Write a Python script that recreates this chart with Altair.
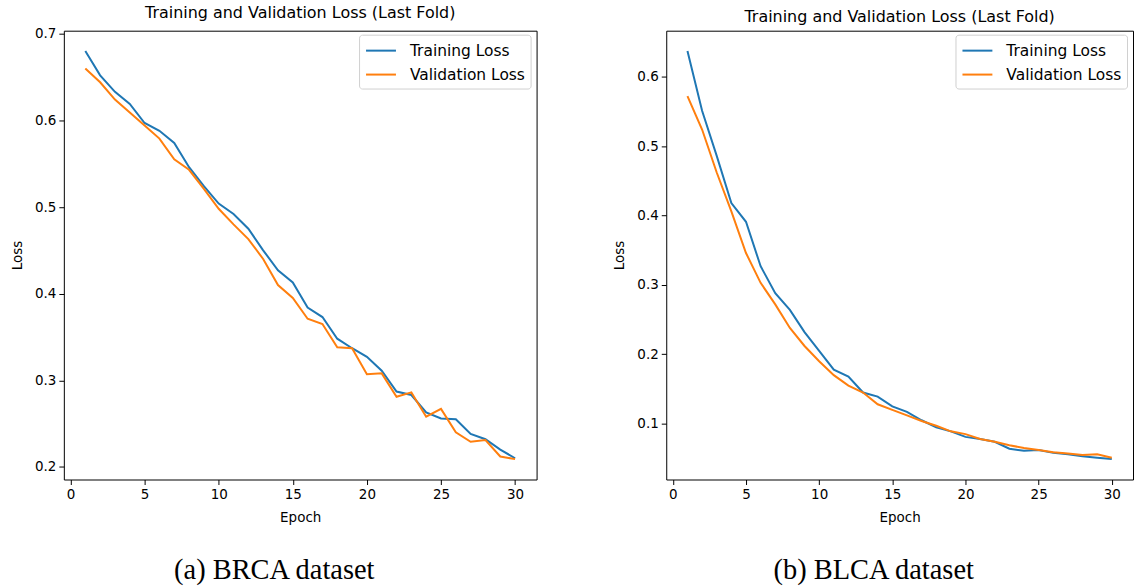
import altair as alt
import pandas as pd

epochs = list(range(1, 31))
series_names = ["Training Loss", "Validation Loss"]
series_colors = ["#1f77b4", "#ff7f0e"]

brca_train = [0.680, 0.652, 0.633, 0.619, 0.597, 0.588, 0.574, 0.546, 0.524, 0.504,
              0.492, 0.475, 0.450, 0.427, 0.413, 0.384, 0.373, 0.348, 0.337, 0.327,
              0.311, 0.287, 0.283, 0.263, 0.256, 0.255, 0.238, 0.232, 0.220, 0.210]
brca_val = [0.660, 0.644, 0.624, 0.609, 0.594, 0.579, 0.555, 0.543, 0.521, 0.498,
            0.480, 0.463, 0.440, 0.410, 0.395, 0.371, 0.365, 0.338, 0.337, 0.307,
            0.308, 0.281, 0.286, 0.258, 0.267, 0.240, 0.229, 0.231, 0.212, 0.209]

blca_train = [0.637, 0.551, 0.486, 0.418, 0.391, 0.327, 0.288, 0.264, 0.232, 0.205,
              0.178, 0.168, 0.145, 0.139, 0.125, 0.117, 0.105, 0.095, 0.089, 0.081,
              0.078, 0.074, 0.064, 0.061, 0.062, 0.058, 0.056, 0.053, 0.051, 0.049]
blca_val = [0.572, 0.524, 0.462, 0.406, 0.346, 0.303, 0.272, 0.238, 0.212, 0.190,
            0.170, 0.155, 0.145, 0.128, 0.120, 0.112, 0.104, 0.097, 0.089, 0.085,
            0.078, 0.074, 0.069, 0.065, 0.062, 0.059, 0.057, 0.055, 0.056, 0.051]

x_ticks = [0, 5, 10, 15, 20, 25, 30]
brca_y_ticks = [0.2, 0.3, 0.4, 0.5, 0.6, 0.7]
blca_y_ticks = [0.1, 0.2, 0.3, 0.4, 0.5, 0.6]

panel_title = "Training and Validation Loss (Last Fold)"
captions = ["(a) BRCA dataset", "(b) BLCA dataset"]


def margin_domain(vals, frac=0.05):
    lo, hi = min(vals), max(vals)
    pad = (hi - lo) * frac
    return [lo - pad, hi + pad]


def make_panel(train, val, yticks, caption, width, height, caption_x):
    df = pd.DataFrame({
        "Epoch": epochs + epochs,
        "Loss": train + val,
        "series": [series_names[0]] * len(epochs) + [series_names[1]] * len(epochs),
    })
    xdom = margin_domain(epochs)
    ydom = margin_domain(train + val)
    lines = alt.Chart(df).mark_line(strokeWidth=2, clip=True).encode(
        x=alt.X("Epoch:Q", scale=alt.Scale(domain=xdom, nice=False, zero=False),
                axis=alt.Axis(values=x_ticks, title="Epoch", format="d")),
        y=alt.Y("Loss:Q", scale=alt.Scale(domain=ydom, nice=False, zero=False),
                axis=alt.Axis(values=yticks, title="Loss", format=".1f")),
        color=alt.Color("series:N",
                        scale=alt.Scale(domain=series_names, range=series_colors),
                        legend=alt.Legend(title=None, orient="none",
                                          legendX=width - 178, legendY=4)),
    )
    cap = alt.Chart(pd.DataFrame({"caption": [caption]})).mark_text(
        font="Liberation Serif", fontSize=28.5, color="black", align="center",
        baseline="middle"
    ).encode(
        text="caption:N",
        x=alt.value(caption_x),
        y=alt.value(height + 91),
    )
    return alt.layer(lines, cap).properties(
        width=width, height=height,
        title=alt.Title(panel_title),
    )


left = make_panel(brca_train, brca_val, brca_y_ticks, captions[0], 474, 450, 211)
right = make_panel(blca_train, blca_val, blca_y_ticks, captions[1], 468, 450, 208)

chart = alt.hconcat(left, right, spacing=75).resolve_scale(
    color="independent", x="independent", y="independent"
).resolve_legend(color="independent").properties(
    padding={"left": 10, "top": 3, "right": 5, "bottom": 0}
).configure(
    font="DejaVu Sans",
    background="white",
).configure_view(
    stroke="black", strokeWidth=1,
).configure_axis(
    grid=False, domain=False, tickColor="black", tickSize=5, tickWidth=1,
    labelColor="black", labelFontSize=13.5, labelPadding=3, labelFont="DejaVu Sans",
    titleColor="black", titleFontSize=13.5, titleFontWeight="normal",
    titleFont="DejaVu Sans", titlePadding=10,
).configure_title(
    fontSize=16, fontWeight="normal", color="black", font="DejaVu Sans",
    anchor="middle", offset=6,
).configure_legend(
    symbolType="M-1.5,0L1.5,0", symbolStrokeWidth=2, symbolSize=400,
    symbolOffset=6,
    labelFontSize=15.5, labelColor="black", labelFont="DejaVu Sans",
    fillColor="white", strokeColor="#d0d0d0", cornerRadius=3, padding=5,
    rowPadding=4, labelOffset=18,
)

chart.save("out.html", embed_options={"renderer": "svg", "actions": False})
